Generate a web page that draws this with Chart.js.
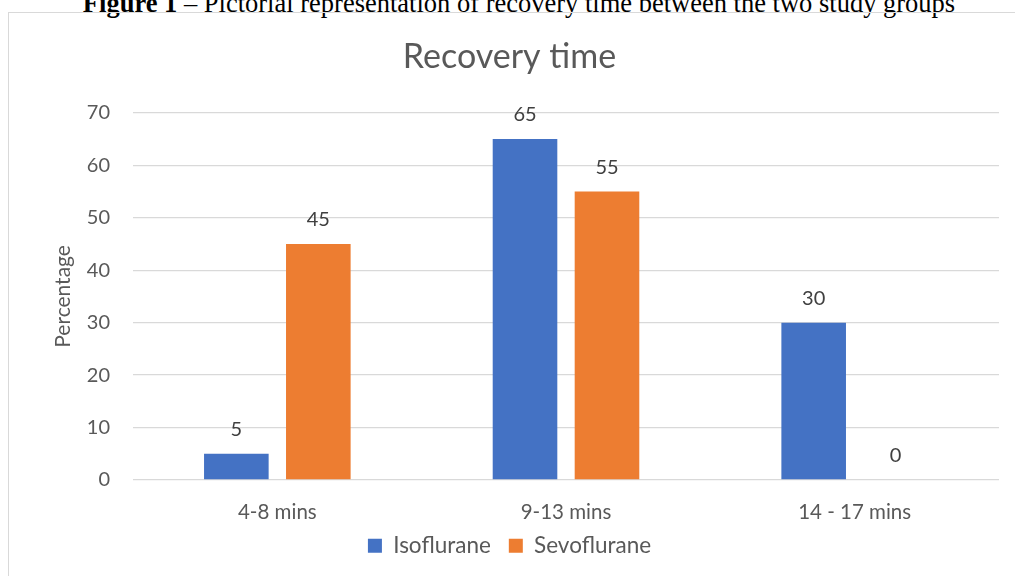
<!DOCTYPE html>
<html>
<head>
<meta charset="utf-8">
<title>Recovery time</title>
<script src="https://cdn.jsdelivr.net/npm/chart.js@4.4.1/dist/chart.umd.min.js"></script>
<style>
  html, body { margin: 0; padding: 0; background: #ffffff; overflow: hidden; }
  #wrap { position: relative; width: 1015px; height: 576px; }
  #caption {
    position: absolute; left: 0; width: 1038px; top: -10px;
    text-align: center; font-family: "Liberation Serif", "Times New Roman", serif;
    font-size: 26.5px; line-height: 1; color: #000; white-space: nowrap;
  }
  #frame {
    position: absolute; left: 8px; top: 12px; width: 1200px; height: 700px;
    border: 1px solid #d9d9d9; pointer-events: none;
  }
  #chart { position: absolute; left: 0; top: 0; }
</style>
</head>
<body>
<div id="wrap">
  <div id="caption"><b>Figure 1</b> – Pictorial representation of recovery time between the two study groups</div>
  <div id="frame"></div>
  <canvas id="chart" width="1015" height="576"></canvas>
</div>
<script>
// Recovery-time groups and percentage of patients in each
const categories = ["4-8 mins", "9-13 mins", "14 - 17 mins"];
const isoflurane = [5, 65, 30];
const sevoflurane = [45, 55, 0];
const yTicks = [0, 10, 20, 30, 40, 50, 60, 70];

const FONT = "Lato, 'Open Sans', sans-serif";
const TEXT = "#595959";

// Writes each bar's value above it
const valueLabels = {
  id: "valueLabels",
  afterDatasetsDraw(chart) {
    const ctx = chart.ctx;
    ctx.save();
    ctx.font = "20px " + FONT;
    ctx.fillStyle = "#404040";
    ctx.textAlign = "center";
    ctx.textBaseline = "middle";
    chart.data.datasets.forEach((ds, i) => {
      const meta = chart.getDatasetMeta(i);
      meta.data.forEach((bar, j) => {
        ctx.fillText(String(ds.data[j]), bar.x, bar.y - 24);
      });
    });
    ctx.restore();
  }
};

new Chart(document.getElementById("chart"), {
  type: "bar",
  data: {
    labels: categories,
    datasets: [
      { label: "Isoflurane", data: isoflurane, backgroundColor: "#4472C4",
        categoryPercentage: 0.568, barPercentage: 0.788 },
      { label: "Sevoflurane", data: sevoflurane, backgroundColor: "#ED7D31",
        categoryPercentage: 0.568, barPercentage: 0.788 }
    ]
  },
  options: {
    responsive: false,
    animation: false,
    layout: { padding: { left: 20, right: 16, top: 14, bottom: 9 } },
    plugins: {
      title: {
        display: true, text: "Recovery time", color: TEXT,
        font: { family: FONT, size: 34, weight: "normal" },
        padding: { top: 23, bottom: 35 }
      },
      legend: {
        position: "bottom",
        labels: {
          color: TEXT, boxWidth: 14, boxHeight: 14, padding: 18,
          font: { family: FONT, size: 22.5 }
        }
      },
      tooltip: { enabled: false }
    },
    scales: {
      x: {
        grid: { display: false, drawTicks: false },
        border: { display: false },
        ticks: { color: TEXT, padding: 20, font: { family: FONT, size: 20.5 } },
        afterFit(scale) {
          scale.height = 36.5;
          // category labels may run into the legend's top padding
          scale._computeLabelArea = () => undefined;
        }
      },
      y: {
        min: 0, max: 70,
        afterBuildTicks(scale) { scale.ticks = yTicks.map(v => ({ value: v })); },
        grid: { color: "#d9d9d9", lineWidth: 1.3, drawTicks: false },
        border: { display: false },
        ticks: { color: TEXT, padding: 23, font: { family: FONT, size: 20 } },
        title: {
          display: true, text: "Percentage", color: TEXT,
          font: { family: FONT, size: 21 }, padding: { top: 31, bottom: 0 }
        },
        afterFit(scale) { scale.width = 113; }
      }
    }
  },
  plugins: [valueLabels]
});
</script>
</body>
</html>
